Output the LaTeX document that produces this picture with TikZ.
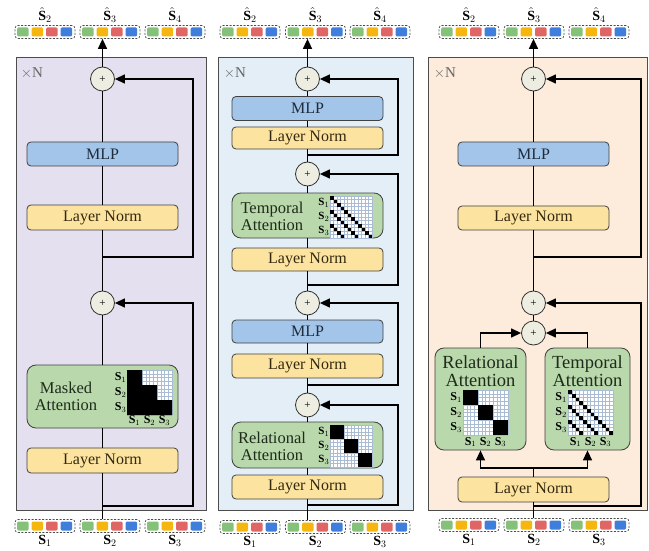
\documentclass[tikz,border=0pt]{standalone}
\usepackage{amsmath,amssymb}
\usepackage{fontspec}
\setmainfont{Liberation Serif}
\usepackage{tikz}
\usetikzlibrary{arrows.meta,positioning,calc}

\definecolor{lavpanel}{HTML}{E4E0EF}
\definecolor{bluepanel}{HTML}{E3EEF7}
\definecolor{peachpanel}{HTML}{FDEBDB}
\definecolor{mlpblue}{HTML}{A3C5E9}
\definecolor{lnyellow}{HTML}{FCE3A0}
\definecolor{attgreen}{HTML}{B9D8AC}
\definecolor{addfill}{HTML}{EEEDE2}
\definecolor{tokg}{HTML}{86C17A}
\definecolor{toky}{HTML}{F5B70F}
\definecolor{tokr}{HTML}{E06666}
\definecolor{tokb}{HTML}{3F7FDB}
\definecolor{gridblue}{HTML}{A9BCD4}
\definecolor{mlpink}{HTML}{1E2B3C}
\definecolor{lnink}{HTML}{33280F}
\definecolor{attink}{HTML}{1F2B1B}

\tikzset{
  panel/.style={draw=black!70, line width=0.9pt},
  blk/.style={draw=black!75, line width=0.8pt, rounded corners=4pt, minimum width=151pt, inner sep=0pt, font=\fontsize{16}{18}\selectfont},
  lnbox/.style={blk, fill=lnyellow, text=lnink},
  mlpbox/.style={blk, fill=mlpblue, text=mlpink},
  attbox/.style={draw=black!75, line width=0.8pt, fill=attgreen, rounded corners=9pt, inner sep=0pt},
  atttext/.style={align=center, text=attink, inner sep=0pt, font=\fontsize{16.5}{17}\selectfont},
  atttextL/.style={atttext, font=\fontsize{18.5}{18}\selectfont},
  addc/.style={circle, draw=black!80, line width=0.8pt, fill=addfill, minimum size=24pt, inner sep=0pt, font=\fontsize{11}{11}\selectfont},
  conn/.style={line width=1.3pt},
  arr/.style={conn, -{Triangle[length=10pt,width=9pt]}},
  tokbox/.style={draw=black!70, dash pattern=on 2pt off 1.5pt, rounded corners=3pt, minimum width=60pt, minimum height=13pt, inner sep=0pt, line width=0.7pt},
  tlabel/.style={font=\fontsize{14}{14}\selectfont, inner sep=1pt},
  mlabel/.style={font=\fontsize{12}{12}\selectfont, inner sep=0pt},
  mlabelS/.style={font=\fontsize{11}{11}\selectfont, inner sep=0pt},
  nlabel/.style={font=\fontsize{15}{15}\selectfont, text=black!60},
  gridln/.style={gridblue, line width=0.25pt}
}

% one token: dashed frame with four coloured slots
\newcommand{\tokgrp}[3]{%
  \node[tokbox] (#1) at (#2,#3) {};
  \foreach \c [count=\i] in {tokg,toky,tokr,tokb}
    \fill[\c, rounded corners=1.2pt] ($(#1.west)+(\i*14.5-12,-4.5)$) rectangle ++(11.5,9);
}
% 12x12 attention mask, #4 fills the black cells
\newcommand{\attmat}[4]{%
  \begin{scope}[shift={(#1,#2)}, x=#3pt, y=-#3pt]
    \fill[white] (0,0) rectangle (12,12);
    \foreach \k in {0,...,12} {
      \draw[gridln] (\k,0) -- (\k,12);
      \draw[gridln] (0,\k) -- (12,\k);
    }
    #4
  \end{scope}}
\newcommand{\maskfill}{\fill (0,0) -- (4,0) -- (4,4) -- (8,4) -- (8,8) -- (12,8) -- (12,12) -- (0,12) -- cycle;}
\newcommand{\relfill}{\foreach \b in {0,4,8} \fill (\b,\b) rectangle ++(4,4);}
\newcommand{\tmpfill}{\foreach \d in {0,4,8} {\pgfmathtruncatemacro\m{11-\d}
    \foreach \c in {0,...,\m} \fill (\c,\c+\d) rectangle ++(1,1);}}

\begin{document}
\begin{tikzpicture}[x=1pt,y=-1pt]
\useasboundingbox (0,0) rectangle (649,551);
% panels
\draw[panel, fill=lavpanel] (16,57) rectangle (206,510);
\draw[panel, fill=bluepanel] (218,57) rectangle (413,510);
\draw[panel, fill=peachpanel] (428,57) rectangle (647,510);
\node[nlabel] (nL) at (32,73) {$\times$N};
\node[nlabel] (nM) at (235,73) {$\times$N};
\node[nlabel] (nR) at (445,73) {$\times$N};

% tokens in and out
\tokgrp{lin1}{45}{526} \tokgrp{lin2}{110}{526} \tokgrp{lin3}{175}{526}
\tokgrp{lout1}{45}{32} \tokgrp{lout2}{110}{32} \tokgrp{lout3}{175}{32}
\tokgrp{min1}{250}{527} \tokgrp{min2}{315.5}{527} \tokgrp{min3}{380}{527}
\tokgrp{mout1}{250}{32} \tokgrp{mout2}{315.5}{32} \tokgrp{mout3}{380}{32}
\tokgrp{rin1}{469}{525} \tokgrp{rin2}{534}{525} \tokgrp{rin3}{599}{525}
\tokgrp{rout1}{469}{32} \tokgrp{rout2}{534}{32} \tokgrp{rout3}{599}{32}
\foreach \g/\t in {lin1/1,lin2/2,lin3/3,min1/1,min2/2,min3/3,rin1/1,rin2/2,rin3/3}
  \node[tlabel, below=1.5pt of \g] (\g-l) {$\mathbf{S}_\t$};
\foreach \g/\t in {lout1/2,lout2/3,lout3/4,mout1/2,mout2/3,mout3/4,rout1/2,rout2/3,rout3/4}
  \node[tlabel, above=1pt of \g] (\g-l) {$\hat{\mathbf{S}}_\t$};

% left: masked attention
\node[lnbox, minimum height=25pt] (lnA) at (102.5,460.5) {Layer Norm};
\node[attbox, minimum width=151pt, minimum height=63pt] (mask) at (102.5,396.5) {};
\node[atttext] (maskT) at (66,396.5) {Masked\\Attention};
\attmat{127}{370}{3.75}{\maskfill}
\foreach \i in {1,2,3} {
  \node[mlabel, anchor=east] (maskR\i) at (126.5,362.5+15*\i) {$\mathbf{S}_\i$};
  \node[mlabel, anchor=north] (maskC\i) at (119.5+15*\i,415.5) {$\mathbf{S}_\i$};
}
\node[addc] (addL1) at (102.5,303) {+};
\node[lnbox, minimum height=25pt] (lnB) at (102.5,217.5) {Layer Norm};
\node[mlpbox, minimum height=24pt] (mlpL) at (102.5,154) {MLP};
\node[addc] (addL2) at (102.5,79) {+};
\coordinate (lb1) at (102.5,506); \coordinate (lk1) at (193,506);
\coordinate (lb2) at (102.5,257); \coordinate (lk2) at (193,257);
\draw[conn] (lin2.north -| lnA) -- (lnA) (lnA) -- (mask) (mask) -- (addL1)
  (addL1) -- (lnB) (lnB) -- (mlpL) (mlpL) -- (addL2);
\draw[arr] (addL2) -- (lout2.south -| addL2);
\draw[arr] (lb1) -- (lk1) |- (addL1);
\draw[arr] (lb2) -- (lk2) |- (addL2);

% middle: relational then temporal
\node[lnbox, minimum height=24pt] (lnM1) at (307.5,487) {Layer Norm};
\node[attbox, minimum width=151pt, minimum height=46pt] (relM) at (307.5,445) {};
\node[atttext] (relMT) at (272,446) {Relational\\Attention};
\attmat{330}{425}{3.5}{\relfill}
\foreach \i in {1,2,3}
  \node[mlabelS, anchor=east] (relMR\i) at (329.5,418+14*\i) {$\mathbf{S}_\i$};
\node[addc] (addM1) at (307.5,405) {+};
\node[lnbox, minimum height=24pt] (lnM2) at (307.5,366) {Layer Norm};
\node[mlpbox, minimum height=23pt] (mlpM1) at (307.5,331.5) {MLP};
\node[addc] (addM2) at (307.5,303) {+};
\node[lnbox, minimum height=23pt] (lnM3) at (307.5,259.5) {Layer Norm};
\node[attbox, minimum width=151pt, minimum height=45pt] (tmpM) at (307.5,215.5) {};
\node[atttext] (tmpMT) at (272,216.5) {Temporal\\Attention};
\attmat{330}{196}{3.5}{\tmpfill}
\foreach \i in {1,2,3}
  \node[mlabelS, anchor=east] (tmpMR\i) at (329.5,189+14*\i) {$\mathbf{S}_\i$};
\node[addc] (addM3) at (307.5,174) {+};
\node[lnbox, minimum height=22pt] (lnM4) at (307.5,138) {Layer Norm};
\node[mlpbox, minimum height=24pt] (mlpM2) at (307.5,108.5) {MLP};
\node[addc] (addM4) at (307.5,79) {+};
\draw[conn] (min2.north -| lnM1) -- (lnM1) (lnM1) -- (relM) (relM) -- (addM1)
  (addM1) -- (lnM2) (lnM2) -- (mlpM1) (mlpM1) -- (addM2) (addM2) -- (lnM3)
  (lnM3) -- (tmpM) (tmpM) -- (addM3) (addM3) -- (lnM4) (lnM4) -- (mlpM2) (mlpM2) -- (addM4);
\draw[arr] (addM4) -- (mout2.south -| addM4);
\foreach \y/\t in {505/addM1,385/addM2,285/addM3,155/addM4} {
  \coordinate (mb-\t) at (307.5,\y); \coordinate (mk-\t) at (398,\y);
  \draw[arr] (mb-\t) -- (mk-\t) |- (\t);
}

% right: relational and temporal side by side
\node[lnbox, minimum height=25pt] (lnR1) at (533.5,489.5) {Layer Norm};
\node[attbox, minimum width=91pt, minimum height=102pt] (relR) at (480.5,399) {};
\node[attbox, minimum width=85pt, minimum height=102pt] (tmpR) at (587.5,399) {};
\node[atttextL] (relRT) at (480.5,371) {Relational\\Attention};
\node[atttextL] (tmpRT) at (587.5,371) {Temporal\\Attention};
\attmat{463}{390}{3.75}{\relfill}
\attmat{568}{390}{3.75}{\tmpfill}
\foreach \i in {1,2,3} {
  \node[mlabel, anchor=east] (relRR\i) at (462,382.5+15*\i) {$\mathbf{S}_\i$};
  \node[mlabel, anchor=north] (relRC\i) at (455.5+15*\i,437) {$\mathbf{S}_\i$};
  \node[mlabel, anchor=east] (tmpRR\i) at (567,382.5+15*\i) {$\mathbf{S}_\i$};
  \node[mlabel, anchor=north] (tmpRC\i) at (560.5+15*\i,437) {$\mathbf{S}_\i$};
}
\node[addc] (addRB) at (533.5,333) {+};
\node[addc] (addRA) at (533.5,303) {+};
\node[lnbox, minimum height=24pt] (lnR2) at (533.5,218) {Layer Norm};
\node[mlpbox, minimum height=24pt] (mlpR) at (533.5,154) {MLP};
\node[addc] (addRT) at (533.5,79) {+};
\coordinate (rsp) at (533.5,468);
\draw[conn] (rin2.north -| lnR1) -- (lnR1) (lnR1) -- (rsp);
\draw[arr] (rsp) -| (relR.south);
\draw[arr] (rsp) -| (tmpR.south);
\draw[arr] (relR.north) |- (addRB);
\draw[arr] (tmpR.north) |- (addRB);
\draw[conn] (addRB) -- (addRA) (addRA) -- (lnR2) (lnR2) -- (mlpR) (mlpR) -- (addRT);
\draw[arr] (addRT) -- (rout2.south -| addRT);
\coordinate (rb1) at (533.5,506); \coordinate (rk1) at (641,506);
\coordinate (rb2) at (533.5,257); \coordinate (rk2) at (641,257);
\draw[arr] (rb1) -- (rk1) |- (addRA);
\draw[arr] (rb2) -- (rk2) |- (addRT);
\end{tikzpicture}
\end{document}
